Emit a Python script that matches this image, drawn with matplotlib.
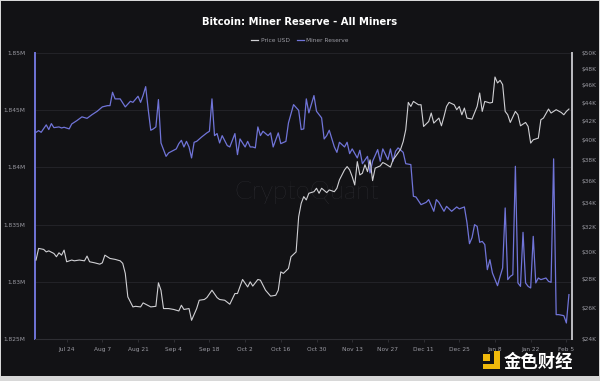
import matplotlib
matplotlib.use("Agg")
import matplotlib.pyplot as plt
import matplotlib.dates as mdates
from matplotlib.lines import Line2D
from matplotlib.patches import Rectangle
from matplotlib.ticker import FixedLocator, FuncFormatter, NullLocator
import pandas as pd

start_date = "2023-07-12"

reserve_days = [0, 1, 2, 4, 5, 6, 7, 9, 10, 11, 13, 14, 16, 18, 20, 22, 24, 26, 28, 29,
                30, 31, 33, 35, 37, 38, 40, 41, 42, 43, 44, 45, 46, 47, 48, 49, 51, 52, 54, 55,
                56, 57, 58, 59, 60, 61, 62, 63, 65, 67, 68, 69, 70, 71, 72, 73, 75, 76, 78, 79,
                80, 82, 83, 84, 85, 86, 87, 88, 89, 91, 92, 93, 95, 96, 98, 99, 101, 103, 104, 105,
                106, 107, 109, 110, 112, 113, 114, 115, 117, 118, 119, 121, 122, 123, 124, 126, 127, 128, 130, 131,
                132, 134, 135, 136, 138, 139, 140, 141, 142, 144, 145, 147, 148, 149, 151, 153, 154, 156, 157, 158,
                160, 161, 163, 165, 166, 168, 169, 170, 171, 172, 173, 174, 175, 176, 177, 178, 179, 181, 182, 183,
                184, 185, 186, 187, 188, 189, 190, 191, 192, 193, 194, 195, 196, 197, 198, 200, 201, 202, 203, 204,
                205, 207, 208, 209]
reserve_btc_k = [1843.06, 1843.21, 1843.06, 1843.71, 1843.30, 1843.82, 1843.47, 1843.53, 1843.44, 1843.50,
                 1843.36, 1843.79, 1844.08, 1844.41, 1844.28, 1844.61, 1844.90, 1845.28, 1845.39, 1845.39,
                 1846.56, 1845.98, 1845.98, 1845.28, 1845.77, 1845.68, 1846.21, 1845.68, 1846.30, 1847.05,
                 1845.04, 1843.24, 1843.36, 1843.53, 1845.92, 1842.13, 1840.96, 1841.26, 1841.49, 1841.61,
                 1842.07, 1842.36, 1841.78, 1842.27, 1841.78, 1840.82, 1842.19, 1842.27, 1842.66, 1843.01,
                 1843.15, 1845.98, 1842.77, 1842.95, 1842.13, 1842.77, 1841.90, 1841.78, 1842.95, 1841.11,
                 1842.48, 1841.78, 1842.27, 1841.78, 1841.78, 1841.70, 1843.53, 1842.77, 1843.15, 1842.77,
                 1843.01, 1841.78, 1843.01, 1842.07, 1842.27, 1843.88, 1845.48, 1844.98, 1843.30, 1843.36,
                 1845.98, 1844.76, 1846.27, 1844.90, 1844.32, 1842.48, 1842.77, 1843.24, 1841.78, 1841.31,
                 1842.19, 1841.78, 1842.19, 1841.20, 1841.61, 1840.82, 1841.49, 1840.32, 1840.96, 1839.51,
                 1840.53, 1841.55, 1840.53, 1841.61, 1840.67, 1841.61, 1840.53, 1841.40, 1841.70, 1841.31,
                 1840.32, 1840.24, 1837.47, 1837.41, 1836.74, 1836.94, 1837.18, 1836.16, 1837.18, 1836.94,
                 1836.16, 1836.59, 1836.16, 1836.54, 1836.37, 1836.54, 1835.19, 1833.33, 1833.86, 1834.99,
                 1834.84, 1833.45, 1833.53, 1833.25, 1831.06, 1831.93, 1830.77, 1829.66, 1830.47, 1831.21,
                 1836.45, 1830.19, 1830.47, 1830.62, 1840.09, 1829.90, 1829.60, 1834.32, 1829.90, 1829.60,
                 1829.46, 1833.97, 1829.90, 1830.33, 1830.19, 1830.33, 1830.04, 1829.95, 1840.74, 1827.13,
                 1827.13, 1827.04, 1826.40, 1828.88]

price_days = [0, 1, 3, 4, 5, 7, 8, 9, 10, 11, 12, 14, 15, 17, 19, 20, 21, 23, 25, 26,
              27, 29, 31, 33, 34, 35, 36, 38, 39, 41, 42, 45, 47, 48, 49, 50, 52, 54, 56, 57,
              58, 60, 61, 63, 64, 66, 67, 69, 71, 72, 74, 76, 78, 79, 81, 83, 84, 85, 87, 88,
              90, 92, 94, 95, 96, 97, 99, 100, 102, 103, 104, 105, 106, 107, 109, 110, 111, 112, 114, 115,
              117, 118, 119, 121, 122, 123, 124, 125, 126, 127, 128, 129, 130, 131, 132, 133, 135, 136, 137, 139,
              140, 141, 143, 144, 145, 146, 147, 148, 150, 151, 152, 154, 155, 156, 158, 159, 160, 161, 162, 164,
              165, 166, 167, 168, 169, 171, 173, 174, 175, 176, 178, 179, 180, 181, 182, 183, 184, 185, 186, 188,
              189, 190, 192, 193, 194, 195, 197, 198, 199, 201, 202, 204, 206, 207, 208, 209]
price_usd_k = [29.39, 30.28, 30.20, 30.01, 30.09, 29.89, 29.64, 29.94, 29.76, 30.15,
               29.26, 29.39, 29.33, 29.39, 29.33, 29.69, 29.26, 29.18, 29.08, 29.18,
               29.76, 29.51, 29.44, 29.33, 29.14, 28.40, 26.74, 26.06, 26.10, 26.06,
               26.33, 26.06, 26.10, 27.72, 27.20, 25.95, 25.95, 25.89, 25.79, 26.17,
               25.89, 25.95, 25.18, 25.95, 26.51, 26.56, 26.69, 27.20, 26.69, 26.56,
               26.51, 26.24, 26.97, 26.97, 27.96, 27.43, 27.79, 27.49, 27.96, 27.91,
               27.20, 26.79, 26.85, 27.20, 28.51, 28.40, 28.76, 29.64, 30.01, 32.84,
               33.99, 34.58, 34.29, 34.88, 35.02, 35.33, 34.88, 35.33, 34.94, 35.18,
               35.02, 35.33, 36.10, 37.04, 37.35, 37.04, 36.40, 35.63, 37.83, 36.56,
               36.72, 37.52, 36.87, 38.00, 36.03, 37.20, 37.42, 37.74, 37.62, 37.30,
               38.00, 38.33, 39.06, 39.83, 41.05, 44.04, 43.58, 44.15, 43.77, 43.77,
               41.40, 41.93, 42.85, 41.76, 42.30, 41.47, 42.47, 43.58, 44.04, 43.77,
               43.22, 43.58, 42.66, 43.40, 42.30, 42.19, 43.58, 45.11, 43.03, 44.15,
               43.97, 44.04, 47.00, 46.29, 46.60, 46.09, 43.03, 42.66, 41.83, 43.03,
               42.66, 41.47, 41.83, 41.40, 39.67, 40.01, 40.18, 42.12, 42.30, 43.29,
               42.85, 43.22, 42.91, 42.66, 43.03, 43.29]

reserve_ticks = [1.825e6, 1.83e6, 1.835e6, 1.84e6, 1.845e6, 1.85e6]
reserve_labels = ["1.825M", "1.83M", "1.835M", "1.84M", "1.845M", "1.85M"]
price_ticks = [24000, 26000, 28000, 30000, 32000, 34000, 36000, 38000, 40000,
               42000, 44000, 46000, 48000, 50000]
date_ticks = ["2023-07-24", "2023-08-07", "2023-08-21", "2023-09-04", "2023-09-18",
              "2023-10-02", "2023-10-16", "2023-10-30", "2023-11-13", "2023-11-27",
              "2023-12-11", "2023-12-25", "2024-01-08", "2024-01-22", "2024-02-05"]

t0 = pd.Timestamp(start_date)
r_dates = t0 + pd.to_timedelta(reserve_days, unit="D")
p_dates = t0 + pd.to_timedelta(price_days, unit="D")
r_vals = [v * 1000 for v in reserve_btc_k]
p_vals = [v * 1000 for v in price_usd_k]

BG = "#121215"
PURPLE = "#7074d8"
WHITE = "#d0d0d4"
LABEL = "#9a9aa2"
GOLD = "#f0b90b"

fig = plt.figure(figsize=(6.0, 3.81), dpi=100, facecolor="#d8d8d8")
fig.patches.append(Rectangle((0.002, 0.012), 0.996, 0.985, transform=fig.transFigure,
                             facecolor=BG, edgecolor="none", zorder=-10))

ax = fig.add_axes([0.0583, 0.1102, 0.895, 0.751])
ax.set_facecolor(BG)
ax2 = ax.twinx()

ax.plot(r_dates, r_vals, color=PURPLE, lw=0.9, zorder=3)
ax2.plot(p_dates, p_vals, color=WHITE, lw=0.8, zorder=4)

ax.set_xlim(t0 - pd.Timedelta(hours=10), t0 + pd.Timedelta(days=210.2))
ax.set_ylim(1.825e6, 1.85e6)
ax2.set_yscale("log")
ax2.set_ylim(24000, 50000)

ax.yaxis.set_major_locator(FixedLocator(reserve_ticks))
ax.set_yticklabels(reserve_labels)
ax2.yaxis.set_major_locator(FixedLocator(price_ticks))
ax2.yaxis.set_minor_locator(NullLocator())
ax2.yaxis.set_major_formatter(FuncFormatter(lambda v, p: f"${int(round(v / 1000))}K"))

ax.xaxis.set_major_locator(FixedLocator(mdates.date2num(pd.to_datetime(date_ticks))))
ax.xaxis.set_major_formatter(FuncFormatter(
    lambda v, p: mdates.num2date(v).strftime("%b ") + str(mdates.num2date(v).day)))

ax.grid(axis="y", color="#26262b", lw=0.6)
ax.set_axisbelow(True)

for a in (ax, ax2):
    a.spines["top"].set_visible(False)
ax.spines["left"].set_color(PURPLE)
ax.spines["left"].set_linewidth(1.4)
ax.spines["right"].set_visible(False)
ax2.spines["left"].set_visible(False)
ax2.spines["right"].set_color("#bdbdc2")
ax2.spines["right"].set_linewidth(1.4)
ax2.spines["bottom"].set_visible(False)
ax.spines["bottom"].set_color("#2e2e33")
ax.spines["bottom"].set_linewidth(0.8)

ax.tick_params(axis="y", length=0, labelsize=4.2, labelcolor=LABEL, pad=7)
ax2.tick_params(axis="y", length=0, labelsize=4.2, labelcolor=LABEL, pad=7)
ax.tick_params(axis="x", length=2.5, width=0.5, color="#3a3a40", labelsize=4.2,
               labelcolor=LABEL, pad=3)

fig.text(0.5, 0.942, "Bitcoin: Miner Reserve - All Miners", ha="center", va="center",
         color="white", fontsize=7.2, fontweight="bold")

handles = [Line2D([0], [0], color=WHITE, lw=0.9), Line2D([0], [0], color=PURPLE, lw=0.9)]
fig.legend(handles, ["Price USD", "Miner Reserve"], loc="center", bbox_to_anchor=(0.5, 0.893),
           ncol=2, frameon=False, fontsize=4.2, labelcolor=LABEL, handlelength=1.2,
           handletextpad=0.4, columnspacing=1.2)

ax.text(0.505, 0.515, "CryptoQuant", transform=ax.transAxes, ha="center", va="center",
        color="#38383e", fontsize=18.5, family="Lato", fontweight="light", zorder=1)

# 金色财经 watermark (logo + text)
def fig_rect(x0, y0, x1, y1):
    fig.patches.append(Rectangle((x0 / 600, 1 - y1 / 381), (x1 - x0) / 600, (y1 - y0) / 381,
                                 transform=fig.transFigure, facecolor=GOLD, edgecolor="none",
                                 zorder=5))

fig_rect(483, 354, 490, 361)
fig_rect(494, 351, 500, 369)
fig_rect(483, 364, 500, 369)
fig.text(504 / 600, 1 - 362 / 381, "金色财经", ha="left", va="center", color="white",
         fontsize=12.5, fontweight="bold", family=["Noto Sans CJK SC", "DejaVu Sans"], zorder=6)

fig.savefig("out.png", dpi=100, facecolor=fig.get_facecolor())
